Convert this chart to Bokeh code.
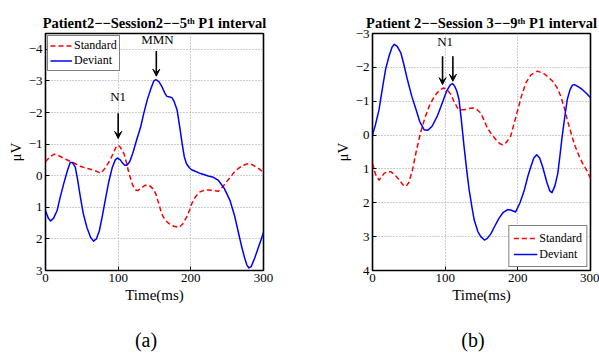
from bokeh.plotting import figure
from bokeh.models import Range1d, Label, Arrow, VeeHead, Legend, LegendItem, FixedTicker, Div
from bokeh.layouts import row, column
from bokeh.embed import file_html
from bokeh.resources import INLINE

# ---- data ----
a_std_t = [0, 6, 12, 16, 21, 28, 35, 42, 48, 57, 67, 72, 76, 80, 86, 90, 93, 97, 100, 103, 108, 111, 115,
           120, 124, 127, 131, 136, 140, 144, 148, 152, 156, 160, 165, 171, 177, 184, 189, 194, 198, 201,
           206, 212, 218, 224, 231, 238, 244, 249, 255, 260, 266, 272, 277, 281, 286, 290, 295, 300]
a_std_v = [-0.44, -0.6, -0.68, -0.66, -0.6, -0.52, -0.44, -0.37, -0.3, -0.23, -0.17, -0.12, -0.08, -0.18,
           -0.38, -0.55, -0.7, -0.9, -0.97, -0.9, -0.7, -0.45, -0.06, 0.3, 0.45, 0.47, 0.4, 0.32, 0.28, 0.33,
           0.42, 0.58, 0.9, 1.21, 1.42, 1.53, 1.6, 1.64, 1.52, 1.32, 1.1, 0.9, 0.68, 0.52, 0.46, 0.45, 0.47,
           0.49, 0.35, 0.2, 0.03, -0.12, -0.24, -0.33, -0.37, -0.38, -0.33, -0.27, -0.2, -0.1]
a_dev_t = [0, 4, 7, 11, 16, 20, 25, 30, 34, 37, 41, 44, 48, 52, 57, 62, 66, 70, 74, 78, 83, 87, 92, 96, 99,
           103, 106, 109, 112, 116, 120, 125, 131, 135, 140, 145, 149, 152, 156, 160, 164, 167, 171, 174,
           177, 181, 185, 188, 191, 194, 198, 201, 206, 212, 218, 224, 231, 238, 246, 254, 260, 265, 270,
           274, 277, 280, 283, 288, 294, 300]
a_dev_v = [1.11, 1.35, 1.43, 1.35, 1.1, 0.7, 0.26, -0.15, -0.42, -0.42, -0.27, 0.1, 0.68, 1.2, 1.64, 1.95,
           2.07, 2.0, 1.75, 1.3, 0.68, 0.2, -0.27, -0.5, -0.56, -0.5, -0.4, -0.33, -0.33, -0.45, -0.7, -1.1,
           -1.55, -1.95, -2.4, -2.75, -3.0, -3.04, -2.98, -2.83, -2.62, -2.51, -2.49, -2.47, -2.35, -2.09,
           -1.5, -1.02, -0.6, -0.38, -0.25, -0.19, -0.14, -0.08, -0.04, 0.01, 0.05, 0.15, 0.4, 0.79, 1.25,
           1.75, 2.25, 2.6, 2.82, 2.92, 2.88, 2.6, 2.2, 1.8]

b_std_t = [0, 4, 9, 12, 16, 21, 25, 31, 37, 42, 46, 50, 55, 60, 66, 72, 78, 84, 89, 94, 98, 103, 108, 112,
           117, 122, 126, 132, 138, 144, 149, 154, 158, 164, 170, 175, 179, 184, 190, 195, 200, 205, 211,
           218, 227, 237, 248, 254, 259, 264, 268, 274, 279, 284, 289, 295, 300]
b_std_v = [0.83, 1.15, 1.33, 1.25, 1.13, 1.08, 1.08, 1.18, 1.33, 1.47, 1.52, 1.4, 1.03, 0.5, -0.06, -0.5,
           -0.85, -1.1, -1.25, -1.35, -1.39, -1.33, -1.2, -1.0, -0.8, -0.75, -0.75, -0.78, -0.8, -0.75,
           -0.65, -0.42, -0.21, -0.02, 0.14, 0.25, 0.29, 0.22, 0.04, -0.35, -0.75, -1.15, -1.54, -1.78,
           -1.89, -1.8, -1.59, -1.4, -1.15, -0.8, -0.45, 0.0, 0.34, 0.6, 0.83, 1.05, 1.28]
b_dev_t = [0, 4, 9, 13, 18, 23, 27, 30, 34, 39, 43, 48, 54, 60, 65, 71, 76, 82, 89, 96, 102, 107, 110, 113,
           116, 119, 122, 126, 130, 133, 137, 140, 145, 149, 154, 158, 163, 168, 174, 180, 186, 191, 197,
           203, 209, 214, 218, 222, 226, 230, 234, 240, 244, 247, 251, 255, 258, 261, 265, 268, 272, 275,
           278, 283, 289, 295, 300]
b_dev_v = [0, -0.3, -0.75, -1.3, -1.94, -2.35, -2.6, -2.68, -2.62, -2.43, -2.1, -1.64, -1.15, -0.75, -0.4,
           -0.16, -0.14, -0.26, -0.55, -0.95, -1.3, -1.48, -1.52, -1.45, -1.3, -1.05, -0.5, 0.34, 1.1, 1.62,
           2.15, 2.51, 2.85, 3.0, 3.1, 3.05, 2.91, 2.7, 2.46, 2.28, 2.2, 2.22, 2.27, 2.0, 1.62, 1.2, 0.93,
           0.68, 0.58, 0.68, 0.93, 1.4, 1.65, 1.7, 1.5, 1.13, 0.6, 0.04, -0.6, -1.05, -1.35, -1.47, -1.49,
           -1.43, -1.34, -1.22, -1.1]

x_ticks = [0, 100, 200, 300]
a_yticks = [-4, -3, -2, -1, 0, 1, 2, 3]
b_yticks = [-3, -2, -1, 0, 1, 2, 3, 4]
series_names = ["Standard", "Deviant"]
titles = ["Patient2\u2212\u2212Session2\u2212\u22125\u1d57\u02b0 P1 interval",
          "Patient 2\u2212\u2212Session 3\u2212\u22129\u1d57\u02b0 P1 interval"]
captions = ["(a)", "(b)"]

FONT = "Liberation Serif"
RED = "#ff0000"
BLUE = "#0000ff"
FIG_H = 323
CAP_H = 30


def fmt(v):
    return ("\u2212%d" % -v) if v < 0 else "%d" % v


def make_fig(width, bl, br, yrange, yticks, title):
    p = figure(width=width, height=FIG_H, x_range=Range1d(0, 300), y_range=Range1d(yrange[0], yrange[1]),
               output_backend="svg", toolbar_location=None, min_border_left=bl, min_border_right=br,
               min_border_top=33, min_border_bottom=53)
    p.background_fill_color = "white"
    p.border_fill_color = "white"
    p.outline_line_color = "black"
    p.outline_line_width = 1.6
    p.title.text = title
    p.title.align = "center"
    p.title.text_font = FONT
    p.title.text_font_size = "14.5px"
    p.title.text_font_style = "bold"
    p.title.text_color = "black"
    p.title.standoff = 5
    p.xaxis.ticker = FixedTicker(ticks=x_ticks)
    p.yaxis.ticker = FixedTicker(ticks=yticks)
    p.xaxis.major_label_overrides = {t: str(t) for t in x_ticks}
    p.yaxis.major_label_overrides = {t: fmt(t) for t in yticks}
    for ax in (p.xaxis[0], p.yaxis[0]):
        ax.major_tick_in = 4
        ax.major_tick_out = 0
        ax.minor_tick_line_color = None
        ax.axis_line_color = "black"
        ax.major_label_text_font = FONT
        ax.major_label_text_font_size = "13px"
        ax.major_label_text_color = "black"
        ax.axis_label_text_font = FONT
        ax.axis_label_text_font_size = "15px"
        ax.axis_label_text_font_style = "normal"
        ax.axis_label_text_color = "black"
        ax.major_label_standoff = 3
        ax.axis_label_standoff = 2
    p.xaxis.axis_label = "Time(ms)"
    p.yaxis.axis_label = "\u03bcV"
    for g in (p.xgrid[0], p.ygrid[0]):
        g.grid_line_color = "#9a9a9a"
        g.grid_line_dash = "1 2"
        g.grid_line_width = 1
    p.xgrid.ticker = FixedTicker(ticks=x_ticks)
    p.ygrid.ticker = FixedTicker(ticks=yticks)
    return p


def add_arrow(p, x, y0, y1):
    p.add_layout(Arrow(end=VeeHead(size=7, line_color="black", fill_color="black", line_width=1),
                       x_start=x, y_start=y0, x_end=x, y_end=y1, line_color="black", line_width=1.6))


def lab(p, x, y, text, size):
    p.add_layout(Label(x=x, y=y, text=text, text_font=FONT, text_font_size=size,
                       text_align="center", text_baseline="middle", text_color="black"))


def caption_div(text, width, pad_left, pad_right):
    return Div(text=text, width=width, height=CAP_H, margin=0,
               styles={"font-family": FONT, "font-size": "20px", "color": "black",
                       "text-align": "center", "line-height": "22px", "padding-top": "6px",
                       "padding-left": "%dpx" % pad_left, "padding-right": "%dpx" % pad_right,
                       "box-sizing": "border-box", "width": "%dpx" % width,
                       "background-color": "white"})


# ---------------- (a) ----------------
pa = make_fig(300, 45, 37, (3, -4.5), a_yticks, titles[0])
ra = pa.line(a_std_t, a_std_v, line_color=RED, line_width=1.5, line_dash="5 3", line_join="round")
ba = pa.line(a_dev_t, a_dev_v, line_color=BLUE, line_width=1.5, line_join="round")
leg_a = Legend(items=[LegendItem(label=series_names[0], renderers=[ra]),
                      LegendItem(label=series_names[1], renderers=[ba])],
               location="top_left")
pa.add_layout(leg_a)
add_arrow(pa, 100, -1.98, -1.18)
add_arrow(pa, 152.5, -3.95, -3.15)
lab(pa, 100, -2.51, "N1", "13px")
lab(pa, 154, -4.31, "MMN", "13px")

# ---------------- (b) ----------------
pb = make_fig(299, 72, 9, (4, -3), b_yticks, titles[1])
rb = pb.line(b_std_t, b_std_v, line_color=RED, line_width=1.5, line_dash="5 3", line_join="round")
bb = pb.line(b_dev_t, b_dev_v, line_color=BLUE, line_width=1.5, line_join="round")
leg_b = Legend(items=[LegendItem(label=series_names[0], renderers=[rb]),
                      LegendItem(label=series_names[1], renderers=[bb])],
               location="bottom_right")
pb.add_layout(leg_b)
add_arrow(pb, 96.4, -2.33, -1.49)
add_arrow(pb, 110.6, -2.33, -1.59)
lab(pb, 100, -2.75, "N1", "13px")

for leg in (leg_a, leg_b):
    leg.border_line_color = "black"
    leg.border_line_width = 1
    leg.label_text_font = FONT
    leg.label_text_font_size = "12px"
    leg.label_text_color = "black"
    leg.spacing = 0
    leg.label_standoff = 2
    leg.background_fill_alpha = 1

leg_a.margin = 2
leg_a.padding = 2
leg_a.label_height = 13
leg_a.glyph_height = 13
leg_a.glyph_width = 22
leg_b.margin = 3
leg_b.padding = 4
leg_b.label_height = 16
leg_b.glyph_height = 16
leg_b.glyph_width = 24

cap_a = caption_div(captions[0], 300, 0, 8)
cap_b = caption_div(captions[1], 299, 47, 0)

layout = column(row(pa, pb), row(cap_a, cap_b))
open("out.html", "w").write(file_html(layout, INLINE))
